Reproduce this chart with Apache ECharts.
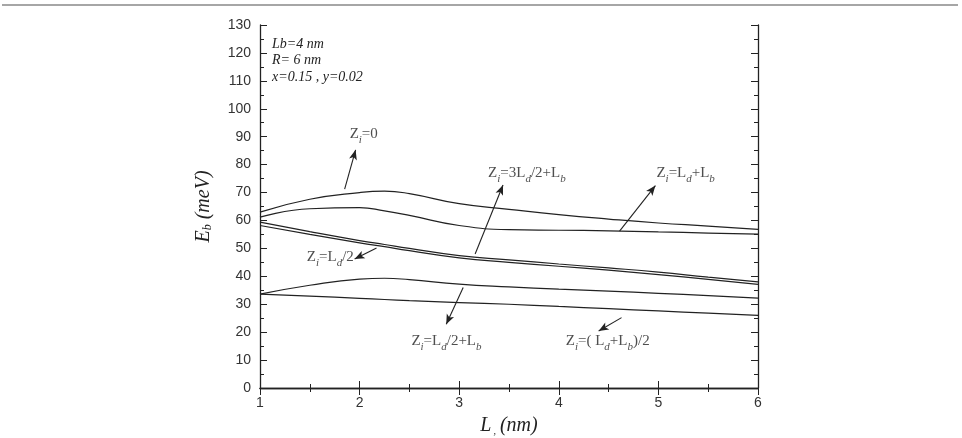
<!DOCTYPE html>
<html>
<head>
<meta charset="utf-8">
<script src="https://cdn.jsdelivr.net/npm/echarts@6/dist/echarts.min.js"></script>
<style>
  html, body { margin: 0; padding: 0; background: #fff; }
  #chart { width: 962px; height: 438px; }
</style>
</head>
<body>
<div id="chart"></div>
<script>
// sample positions along L (nm)
var lx = [1, 1.5, 2, 2.25, 2.5, 3, 3.5, 4, 4.5, 5, 5.5, 6]

// binding energy Eb (meV) for each impurity position
var ebZ0       = [63.0, 67.6, 70.0, 70.5, 69.6, 66.0, 64.0, 62.1, 60.5, 59.1, 58.0, 56.8]
var ebLdLb     = [61.2, 64.2, 64.6, 63.4, 61.8, 58.2, 56.7, 56.5, 56.3, 55.9, 55.5, 55.1]
var ebLd2      = [59.4, 56.0, 52.8, 51.4, 50.0, 47.4, 45.9, 44.4, 43.0, 41.5, 39.7, 38.0]
var eb3Ld2Lb   = [58.2, 55.0, 52.0, 50.6, 49.2, 46.6, 45.0, 43.6, 42.2, 40.6, 38.9, 37.1]
var ebLd2Lb    = [33.6, 36.8, 39.0, 39.3, 38.8, 37.2, 36.2, 35.4, 34.7, 33.9, 33.1, 32.2]
var ebHalfLdLb = [33.6, 32.9, 32.1, 31.7, 31.3, 30.6, 30.0, 29.2, 28.4, 27.6, 26.8, 26.0]

// curve labels: text and where they sit (data units)
var noteText = [
  'Z{s|i}=0',
  'Z{s|i}=3L{s|d}/2+L{s|b}',
  'Z{s|i}=L{s|d}+L{s|b}',
  'Z{s|i}=L{s|d}/2',
  'Z{s|i}=L{s|d}/2+L{s|b}',
  'Z{s|i}=( L{s|d}+L{s|b})/2'
]
var notePos = [[1.90, 91.0], [3.29, 77.0], [4.98, 77.0], [1.47, 46.8], [2.52, 16.8], [4.07, 16.8]]

// arrows: [tail, head] in data units
var arrows = [
  [[1.85, 71.2], [1.96, 85.3]],
  [[3.16, 48.0], [3.44, 72.7]],
  [[4.61, 56.2], [4.97, 72.5]],
  [[2.17, 50.1], [1.95, 46.2]],
  [[3.04, 36.0], [2.87, 22.8]],
  [[4.63, 25.2], [4.40, 20.4]]
]

var info = ['Lb=4 nm', 'R= 6 nm', 'x=0.15 , y=0.02']

function pairs(ys) {
  return lx.map(function (x, i) { return [x, ys[i]] })
}

var ink = '#222'

function curve(name, ys) {
  return {
    name: name,
    type: 'line',
    data: pairs(ys),
    smooth: 0.5,
    showSymbol: false,
    lineStyle: { color: ink, width: 1.2 },
    itemStyle: { color: ink },
    silent: true
  }
}

var chart = echarts.init(document.getElementById('chart'))

var tickFont = { color: '#333', fontSize: 14, fontFamily: 'Liberation Sans, Arial, sans-serif' }
var serif = 'Liberation Serif, serif'

function frameAxis(extra) {
  return Object.assign({
    axisLine: { lineStyle: { color: ink, width: 1.3 } },
    axisTick: { inside: true, length: 7, lineStyle: { color: ink } },
    minorTick: { show: true, splitNumber: 2, length: 4, lineStyle: { color: ink } },
    splitLine: { show: false }
  }, extra)
}

var option = {
  animation: false,
  backgroundColor: '#fff',
  grid: { left: 260, right: 204, top: 25, bottom: 50, outerBoundsMode: 'none', containLabel: false },
  xAxis: [
    frameAxis({
      type: 'value', min: 1, max: 6, interval: 1,
      name: 'L{s|,}(nm)', nameLocation: 'middle', nameGap: 28,
      nameTextStyle: {
        fontFamily: serif, fontStyle: 'italic', fontSize: 20, color: '#222',
        rich: { s: { fontSize: 10, fontFamily: serif, padding: [10, 4, 0, 2], verticalAlign: 'bottom' } }
      },
      axisLabel: Object.assign({ margin: 8 }, tickFont)
    }),
    frameAxis({
      type: 'value', min: 1, max: 6, interval: 1, position: 'top',
      axisLabel: { show: false }
    })
  ],
  yAxis: [
    frameAxis({
      type: 'value', min: 0, max: 130, interval: 10,
      name: 'E{s|b} (meV)', nameLocation: 'middle', nameGap: 46, nameRotate: 90,
      nameTextStyle: {
        fontFamily: serif, fontStyle: 'italic', fontSize: 20, color: '#222',
        rich: { s: { fontSize: 12, fontFamily: serif, fontStyle: 'italic', padding: [9, 0, 0, 0], verticalAlign: 'bottom' } }
      },
      axisLabel: Object.assign({ margin: 9 }, tickFont)
    }),
    frameAxis({
      type: 'value', min: 0, max: 130, interval: 10, position: 'right',
      axisLabel: { show: false }
    })
  ],
  graphic: [
    {
      type: 'line', silent: true,
      shape: { x1: 2, y1: 5, x2: 958, y2: 5 },
      style: { stroke: '#888', lineWidth: 1.5 }
    },
    {
      type: 'text', left: 272, top: 36, silent: true,
      style: {
        text: info.join('\n'),
        fontFamily: serif, fontStyle: 'italic', fontSize: 14,
        lineHeight: 16.5, fill: '#222'
      }
    }
  ],
  series: [
    curve('Zi=0', ebZ0),
    curve('Zi=Ld+Lb', ebLdLb),
    curve('Zi=Ld/2', ebLd2),
    curve('Zi=3Ld/2+Lb', eb3Ld2Lb),
    curve('Zi=Ld/2+Lb', ebLd2Lb),
    curve('Zi=(Ld+Lb)/2', ebHalfLdLb),
    {
      name: 'notes',
      type: 'scatter',
      symbolSize: 0,
      silent: true,
      data: notePos.map(function (p, i) {
        return { value: p, label: { formatter: noteText[i] } }
      }),
      label: {
        show: true, position: 'right', distance: 0,
        fontFamily: serif, fontSize: 15, color: '#222',
        rich: { s: { fontSize: 11, fontFamily: serif, fontStyle: 'italic', padding: [12, 0, 0, 0], verticalAlign: 'bottom', color: '#222' } }
      },
      markLine: {
        silent: true,
        symbol: ['none', 'arrow'],
        symbolSize: [6, 10],
        label: { show: false },
        lineStyle: { color: ink, width: 1.1, type: 'solid' },
        data: arrows.map(function (a) {
          return [{ coord: a[0] }, { coord: a[1] }]
        })
      }
    }
  ]
}

chart.setOption(option)
</script>
</body>
</html>
